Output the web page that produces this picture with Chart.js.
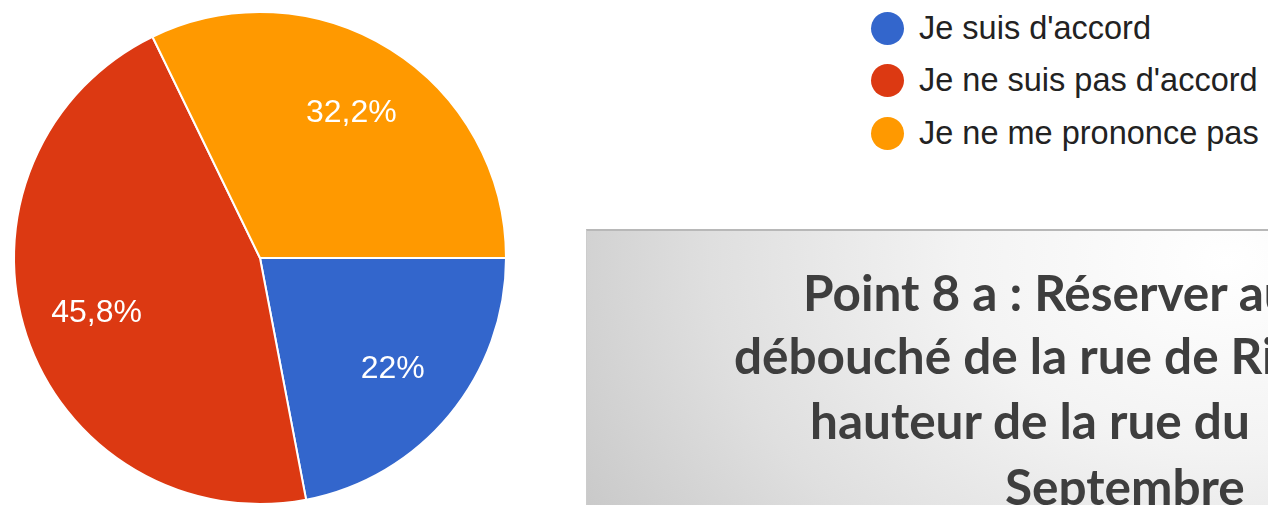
<!DOCTYPE html>
<html lang="fr">
<head>
<meta charset="utf-8">
<script src="https://cdn.jsdelivr.net/npm/chart.js@4.4.0/dist/chart.umd.min.js"></script>
<style>
  html, body { margin: 0; padding: 0; width: 1268px; height: 505px; overflow: hidden; background: #fff; }
  #pie { position: absolute; left: 0; top: 0; }
  #legend {
    position: absolute; left: 871px; top: 2px; margin: 0; padding: 0; list-style: none;
    font-family: "Liberation Sans", Arial, sans-serif; font-size: 32.5px; color: #222;
  }
  #legend li { display: flex; align-items: center; height: 52.5px; white-space: nowrap; }
  #legend .dot { width: 33px; height: 33px; border-radius: 50%; margin-right: 15px; flex: none; }
  #slide {
    position: absolute; left: 586px; top: 229px; width: 700px; height: 300px; overflow: hidden;
    border-top: 2px solid #b8b8b8; border-left: 1px solid #cccccc;
    background: radial-gradient(ellipse 760px 540px at 640px 30px, #ffffff 0%, #f3f3f3 35%, #dfdfdf 68%, #c6c6c6 100%);
    font-family: Lato, "Open Sans", sans-serif; font-weight: bold; color: #3e3e3e;
  }
  #slide .line { position: absolute; white-space: nowrap; font-size: 49.5px; line-height: 49.5px; }
</style>
</head>
<body>
<canvas id="pie" width="520" height="516"></canvas>
<ul id="legend"></ul>
<div id="slide"></div>
<script>
const labels = ["Je suis d'accord", "Je ne suis pas d'accord", "Je ne me prononce pas"];
const shares = [22, 45.8, 32.2];
const colors = ["#3366cc", "#dc3912", "#ff9900"];

const slideLines = ["Point 8 a : Réserver au", "débouché de la rue de Ri", "hauteur de la rue du", "Septembre"];
const slideLeft = [216, 147, 223, 418];
const slideTop = [37, 100, 165, 231];

function formatPct(v) {
  return String(v).replace(".", ",") + "%";
}

// legend lives in the page, built from the chart's own legend items
const htmlLegend = {
  id: "htmlLegend",
  afterUpdate(chart) {
    const ul = document.getElementById("legend");
    ul.innerHTML = "";
    const items = chart.options.plugins.legend.labels.generateLabels(chart);
    items.forEach((item) => {
      const li = document.createElement("li");
      const dot = document.createElement("span");
      dot.className = "dot";
      dot.style.background = item.fillStyle;
      const txt = document.createElement("span");
      txt.textContent = item.text;
      li.append(dot, txt);
      ul.appendChild(li);
    });
  },
};

// percentage written inside each slice
const sliceLabels = {
  id: "sliceLabels",
  afterDatasetsDraw(chart) {
    const { ctx } = chart;
    const meta = chart.getDatasetMeta(0);
    ctx.save();
    ctx.font = '32px "Liberation Sans", Arial, sans-serif';
    ctx.fillStyle = "#fff";
    ctx.textAlign = "center";
    ctx.textBaseline = "middle";
    meta.data.forEach((arc, i) => {
      const { x, y, startAngle, endAngle, outerRadius } = arc.getProps(
        ["x", "y", "startAngle", "endAngle", "outerRadius"],
        true
      );
      const mid = (startAngle + endAngle) / 2;
      const r = outerRadius * 0.7;
      ctx.fillText(formatPct(shares[i]), x + Math.cos(mid) * r, y + Math.sin(mid) * r + 1);
    });
    ctx.restore();
  },
};

const ctx = document.getElementById("pie").getContext("2d");
new Chart(ctx, {
  type: "pie",
  data: {
    labels: labels,
    datasets: [
      {
        data: shares,
        backgroundColor: colors,
        borderColor: "#fff",
        borderWidth: 2,
      },
    ],
  },
  options: {
    responsive: false,
    animation: false,
    rotation: 90,
    layout: { padding: { left: 13, right: 13, top: 11, bottom: 11 } },
    plugins: {
      legend: { display: false },
      tooltip: { enabled: false },
    },
  },
  plugins: [htmlLegend, sliceLabels],
});

const slide = document.getElementById("slide");
slideLines.forEach((text, i) => {
  const div = document.createElement("div");
  div.className = "line";
  div.style.left = slideLeft[i] + "px";
  div.style.top = slideTop[i] + "px";
  div.textContent = text;
  slide.appendChild(div);
});
</script>
</body>
</html>
